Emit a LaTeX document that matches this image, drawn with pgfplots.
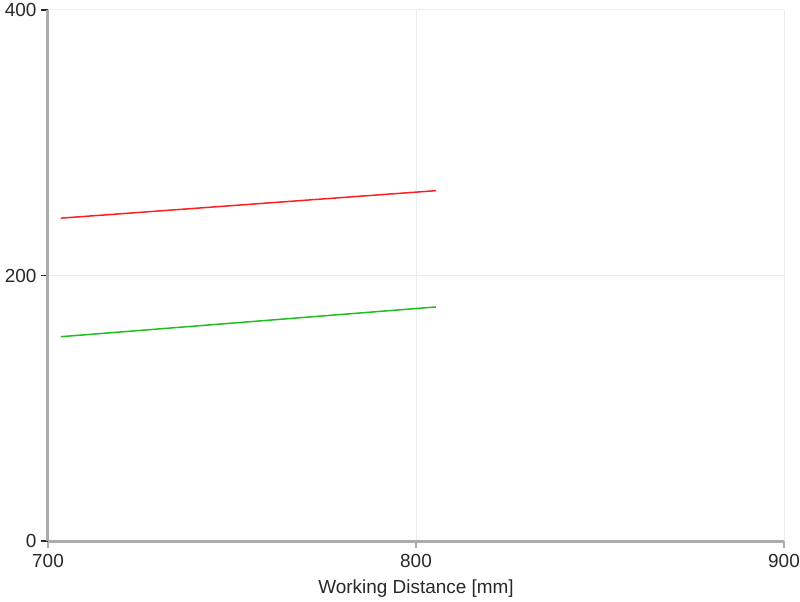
\documentclass[border=0pt]{standalone}
\usepackage{fontspec}
\setmainfont{Liberation Sans}
\usepackage{pgfplots}
\pgfplotsset{compat=1.18}
\definecolor{axgrey}{RGB}{172,172,172}
\definecolor{gridgrey}{RGB}{236,236,236}
\definecolor{txt}{RGB}{40,40,40}
\definecolor{lred}{RGB}{255,30,30}
\definecolor{lgreen}{RGB}{30,190,30}
\begin{document}
\begin{tikzpicture}
\begin{axis}[
  name=ax,
  scale only axis,
  width=736bp, height=531bp,
  xmin=700, xmax=900, ymin=0, ymax=400,
  xtick={700,800,900}, ytick={0,200,400},
  axis x line*=bottom, axis y line*=left,
  axis line style={axgrey, line width=3bp, -},
  grid=major,
  major grid style={gridgrey, line width=1bp},
  tick align=outside,
  x tick style={axgrey, line width=2.5bp},
  y tick style={txt, line width=1.5bp},
  major tick length=7bp,
  /pgf/number format/assume math mode=true,
  /pgf/number format/1000 sep={},
  tick label style={font=\fontsize{19}{22}\selectfont, text=txt},
  xticklabel style={yshift=-3bp},
  yticklabel style={xshift=-1bp},
  xlabel={Working Distance [mm]},
  xlabel style={font=\fontsize{19}{22}\selectfont, text=txt, at={(axis description cs:0.5,0)}, anchor=north, yshift=-35bp},
  clip=false,
]
\addplot[lred, line width=1.5bp] coordinates {(703.5,243.2) (805.4,263.9)};
\addplot[lgreen, line width=1.5bp] coordinates {(703.5,153.9) (805.4,176.3)};
\end{axis}
\pgfresetboundingbox
\path ([xshift=-48bp,yshift=-61bp]ax.south west) rectangle ([xshift=16bp,yshift=10bp]ax.north east);
\end{tikzpicture}
\end{document}
